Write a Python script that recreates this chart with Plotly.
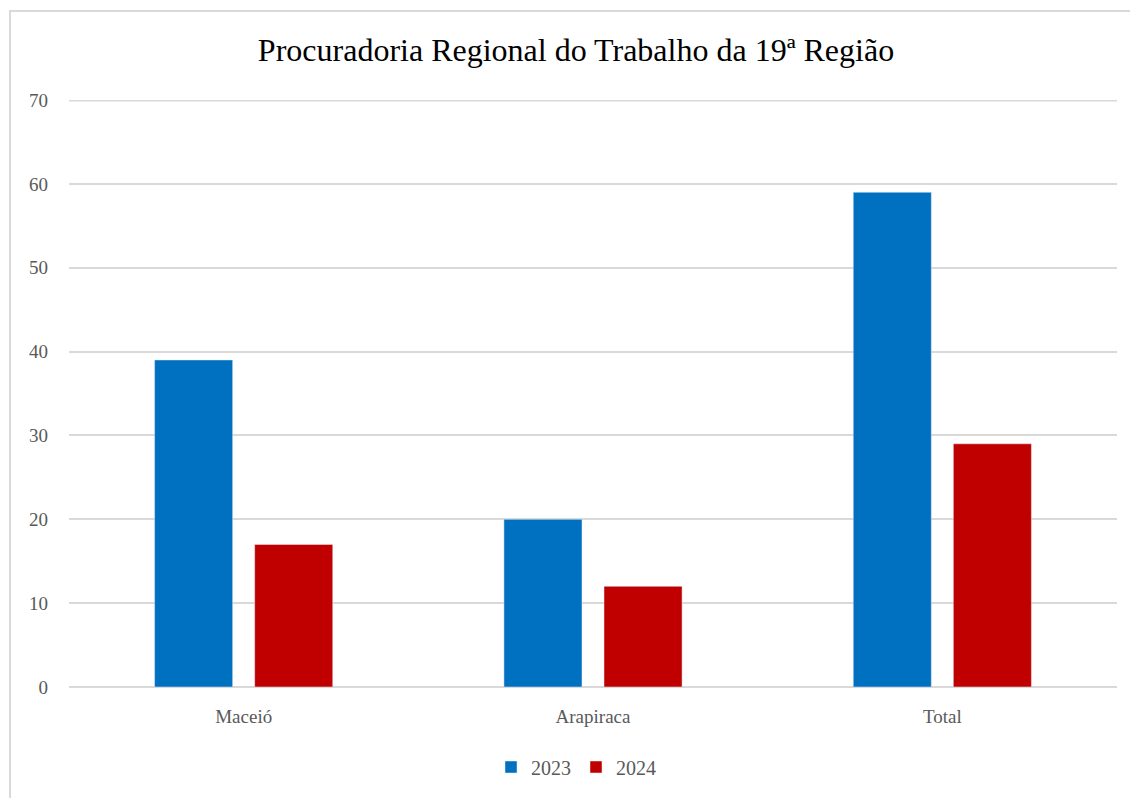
import plotly.graph_objects as go

categories = ["Maceió", "Arapiraca", "Total"]
values_2023 = [39, 20, 59]
values_2024 = [17, 12, 29]
series_names = ["2023", "2024"]
tick_values = [0, 10, 20, 30, 40, 50, 60, 70]

# the page body adds an 8px offset; compensate in figure coordinates
OFF = 8
W, H = 1138, 798
L, T = 69 - OFF, 100 - OFF
pw, ph = 1048, 587
R, B = W - L - pw, H - T - ph

def px_x(x):  # page pixel -> paper x
    return (x - OFF - L) / pw

def px_y(y):  # page pixel -> paper y
    return (T + ph - (y - OFF)) / ph

fig = go.Figure()
fig.add_trace(go.Bar(name=series_names[0], x=categories, y=values_2023, marker_color="#0070C0"))
fig.add_trace(go.Bar(name=series_names[1], x=categories, y=values_2024, marker_color="#C00000"))

serif = "Liberation Serif, Times New Roman, serif"
fig.update_layout(
    width=W, height=H,
    margin=dict(l=L, r=R, t=T, b=B),
    paper_bgcolor="white", plot_bgcolor="white",
    barmode="group", bargap=0.427, bargroupgap=0.22,
    title=dict(text="Procuradoria Regional do Trabalho da 19ª Região",
               x=(576 - OFF) / W, xanchor="center", y=1 - (50 - OFF) / H, yanchor="middle",
               font=dict(family=serif, size=32, color="black")),
    font=dict(family=serif, size=19, color="#595959"),
    xaxis=dict(showgrid=False, showline=False, ticks="", ticklabelstandoff=16,
               tickfont=dict(size=19, color="#595959")),
    yaxis=dict(range=[0, 70], tickvals=tick_values, showgrid=True, gridcolor="#d9d9d9",
               gridwidth=1.5, zeroline=True, zerolinecolor="#d9d9d9", zerolinewidth=2,
               ticks="", ticklabelstandoff=20, tickfont=dict(size=19, color="#595959")),
    legend=dict(orientation="h", x=px_x(576), xanchor="center", y=px_y(767),
                yanchor="middle", font=dict(size=20, color="#595959"), itemwidth=30,
                traceorder="normal"),
    shapes=[
        dict(type="rect", xref="paper", yref="paper",
             x0=px_x(10), x1=px_x(1150),
             y0=px_y(810), y1=px_y(11),
             line=dict(color="#d9d9d9", width=2), fillcolor="rgba(0,0,0,0)", layer="below"),
        dict(type="line", xref="paper", yref="y", x0=0, x1=1, y0=tick_values[-1], y1=tick_values[-1],
             line=dict(color="#d9d9d9", width=3), layer="below"),
    ],
)
fig.write_html("out.html")
